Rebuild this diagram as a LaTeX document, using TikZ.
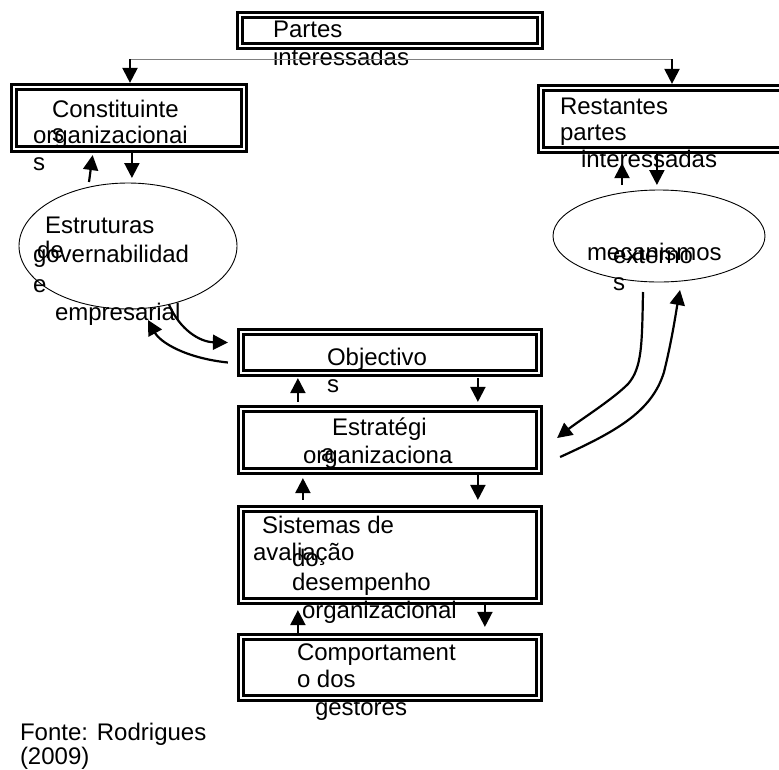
\documentclass[tikz,border=0pt]{standalone}
\usepackage{fontspec}
\setmainfont{Liberation Sans}
\usetikzlibrary{arrows.meta,shapes.geometric}
\begin{document}
\begin{tikzpicture}[x=1pt,y=-1pt,
  dbox/.style={rectangle, draw=black, double=white, line width=3.1pt, double distance=2pt, outer sep=4.1pt, inner sep=0pt},
  ell/.style={ellipse, draw=black, line width=0.9pt, inner sep=0pt, outer sep=0pt},
  txt/.style={anchor=base west, inner sep=0pt, outer sep=0pt, text=black, font=\fontsize{24}{27}\selectfont},
  arr/.style={line width=2.2pt, -{Triangle[length=15pt,width=15pt]}},
  thin line/.style={draw=gray, line width=1pt}
]
\clip (0,0) rectangle (779,769);
\fill[white] (0,0) rectangle (779,769);

% boxes
\node[dbox, minimum width=300pt, minimum height=31pt] (top) at (390,30.5) {};
\node[dbox, minimum width=230pt, minimum height=62pt] (cons) at (129,118) {};
\node[dbox, minimum width=255pt, minimum height=62pt] (rest) at (668.5,119) {};
\node[dbox, minimum width=298pt, minimum height=41pt] (obj) at (390,352.5) {};
\node[dbox, minimum width=298pt, minimum height=62pt] (est) at (390,440) {};
\node[dbox, minimum width=298pt, minimum height=92pt] (sis) at (390,555) {};
\node[dbox, minimum width=298pt, minimum height=61pt] (comp) at (390,667.5) {};

% ellipses
\node[ell, minimum width=218pt, minimum height=126pt] (gov) at (128,246) {};
\node[ell, minimum width=212pt, minimum height=92pt] (mec) at (659,236) {};

% texts
\node[txt] (t1a) at (273,37) {Partes};
\node[txt] (t1b) at (273,65) {interessadas};
\node[txt] (t2a) at (52,117) {Constituinte};
\node[txt] (t2s) at (52,141) {s};
\node[txt] (t2b) at (33,143) {organizacionai};
\node[txt] (t2c) at (33,170) {s};
\node[txt] (t3a) at (560,114) {Restantes};
\node[txt] (t3b) at (560,140) {partes};
\node[txt] (t3c) at (581,167) {interessadas};
\node[txt] (t4a) at (45,233) {Estruturas};
\node[txt] (t4b) at (37,258) {de};
\node[txt] (t4c) at (33,262) {governabilidad};
\node[txt] (t4d) at (33,292) {e};
\node[txt] (t4e) at (55,320) {empresarial};
\node[txt] (t5a) at (587,260) {mecanismos};
\node[txt] (t5b) at (613,263) {externo};
\node[txt] (t5c) at (613,290) {s};
\node[txt] (t6a) at (327,365) {Objectivo};
\node[txt] (t6b) at (327,392) {s};
\node[txt] (t7a) at (332,435) {Estratégi};
\node[txt] (t7b) at (303,463) {organizaciona};
\node[txt] (t7c) at (321,461) {a};
\node[txt] (t8a) at (262,533) {Sistemas de};
\node[txt] (t8b) at (253,560) {avaliação};
\node[txt] (t8c) at (292,566) {do};
\node[txt] (t8d) at (292,590) {desempenho};
\node[txt] (t8e) at (302,618) {organizacional};
\node[txt] (t9a) at (297,660) {Comportament};
\node[txt] (t9b) at (297,687) {o dos};
\node[txt] (t9c) at (315,715) {gestores};
\node[txt] (src1) at (20,740) {Fonte: Rodrigues};
\node[txt] (src2) at (20,764) {(2009)};

% top distribution
\coordinate (tl) at (130,59);
\coordinate (tr) at (672,59);
\draw[thin line] (tl) -- (tr);
\draw[arr] (tl) -- (tl |- cons.north);
\draw[arr] (tr) -- (tr |- rest.north);

% constituintes <-> governabilidade
\draw[arr, shorten >=5pt] ([xshift=122pt]cons.south west) coordinate (c1) -- (c1 |- gov.north);
\draw[arr, shorten >=2pt] ([xshift=-39pt,yshift=1pt]gov.north) -- ([xshift=83pt]cons.south west);

% restantes <-> mecanismos
\draw[arr, shorten >=5pt] ([xshift=120pt]rest.south west) coordinate (r1) -- (r1 |- mec.north);
\draw[arr, shorten >=9pt] ([xshift=-37pt,yshift=5pt]mec.north) coordinate (r2) -- (r2 |- rest.south);

% objectivos <-> estrategia
\draw[arr, shorten >=1pt, shorten <=3pt] ([xshift=61pt]est.north west) -- ([xshift=61pt]obj.south west);
\draw[arr, shorten >=3pt, shorten <=1pt] ([xshift=241pt]obj.south west) -- ([xshift=241pt]est.north west);

% estrategia <-> sistemas
\draw[arr, shorten >=3pt, shorten <=5pt] ([xshift=66pt]sis.north west) -- ([xshift=66pt]est.south west);
\draw[arr, shorten >=5pt] ([xshift=241pt]est.south west) -- ([xshift=241pt]sis.north west);

% sistemas <-> comportamento
\draw[arr, shorten >=5pt] ([xshift=61pt]comp.north west) -- ([xshift=61pt]sis.south west);
\draw[arr, shorten >=6pt] ([xshift=248pt]sis.south west) -- ([xshift=248pt]comp.north west);

% governabilidade <-> objectivos
\draw[arr] (gov.-55) .. controls (180,330) and (200,342) .. ([xshift=-9pt,yshift=10pt]obj.west);
\draw[arr] ([xshift=-9pt,yshift=-10pt]obj.west) .. controls (185,358) and (160,342) .. ([xshift=20pt,yshift=-74pt]gov.center);

% mecanismos <-> estrategia
\draw[arr] ([xshift=-16pt,yshift=-10pt]mec.south) .. controls (642,345) and (642,368) .. (628,384) .. controls (612,400) and (580,420) .. ([xshift=14pt,yshift=2pt]est.east);
\draw[arr] ([xshift=17pt,yshift=-17pt]est.east) .. controls (615,432) and (652,412) .. (664,372) .. controls (672,340) and (676,312) .. ([xshift=21pt,yshift=-8pt]mec.south);
\end{tikzpicture}
\end{document}
